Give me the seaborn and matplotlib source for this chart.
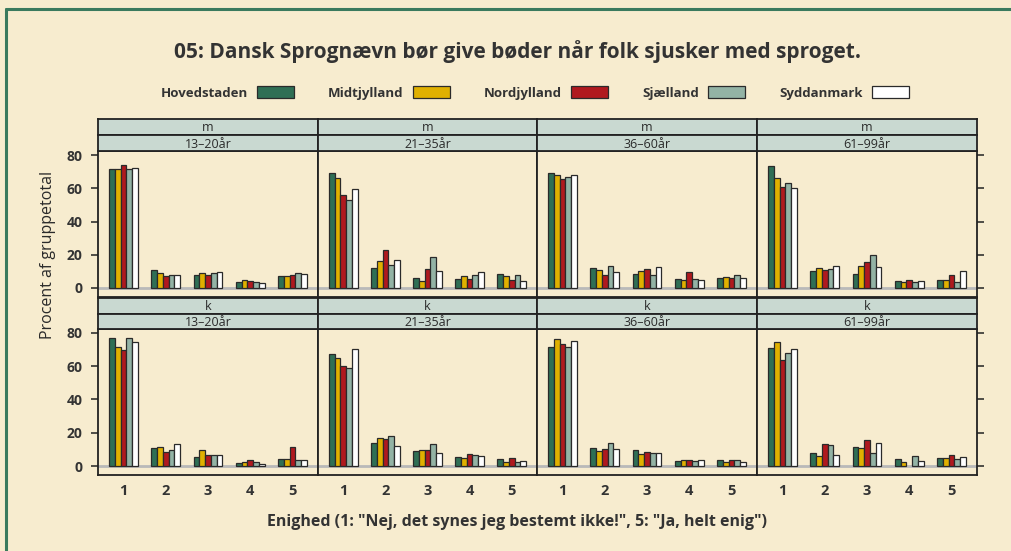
import numpy as np
import pandas as pd
import matplotlib
matplotlib.use("Agg")
import matplotlib.pyplot as plt
from matplotlib.patches import Patch
import seaborn as sns

# region order and colours
regions = ["Hovedstaden", "Midtjylland", "Nordjylland", "Sjælland", "Syddanmark"]
region_colors = ["#2F6F55", "#E0B000", "#B0191E", "#93B3A5", "#FFFFFF"]
answers = ["1", "2", "3", "4", "5"]
age_groups = ["13–20år", "21–35år", "36–60år", "61–99år"]
sexes = ["m", "k"]

# percent per answer (rows 1..5), per region (columns)
m_13_20 = [[71.4, 71.4, 73.8, 71.4, 72.0], [10.6, 8.8, 7.0, 7.6, 7.8], [8.0, 8.8, 8.0, 9.0, 9.4],
           [3.8, 4.6, 4.0, 3.6, 3.0], [7.0, 7.4, 8.0, 9.0, 8.4]]
m_21_35 = [[69.4, 66.2, 56.2, 52.8, 59.4], [12.2, 16.0, 22.6, 14.0, 16.8], [5.8, 4.2, 11.4, 18.8, 10.4],
           [5.4, 7.0, 5.4, 7.6, 9.4], [8.4, 7.0, 5.0, 7.6, 4.4]]
m_36_60 = [[69.2, 68.0, 65.8, 66.6, 67.8], [11.8, 11.0, 7.6, 13.4, 9.4], [8.4, 10.2, 11.4, 8.0, 12.6],
           [5.4, 4.6, 9.8, 5.4, 4.8], [6.0, 6.6, 6.0, 7.6, 6.0]]
m_61_99 = [[73.4, 66.4, 60.8, 63.2, 60.4], [10.0, 12.2, 11.0, 11.4, 13.4], [8.2, 13.4, 15.8, 19.6, 12.6],
           [4.2, 3.8, 5.0, 3.4, 4.0], [4.8, 4.8, 8.0, 3.4, 10.2]]
k_13_20 = [[76.6, 71.2, 69.6, 76.8, 74.6], [11.2, 11.8, 8.4, 10.0, 13.2], [5.6, 9.6, 6.6, 6.6, 6.6],
           [2.2, 2.6, 3.6, 2.8, 1.6], [4.6, 4.6, 11.6, 3.8, 3.8]]
k_21_35 = [[67.0, 65.0, 60.0, 58.8, 70.0], [13.8, 17.0, 16.6, 18.0, 12.4], [9.0, 9.6, 9.8, 13.2, 8.0],
           [5.8, 5.0, 7.6, 7.0, 6.4], [4.2, 2.6, 5.2, 2.8, 3.0]]
k_36_60 = [[71.2, 76.0, 73.0, 71.2, 74.8], [11.2, 9.0, 10.4, 13.8, 10.2], [9.8, 7.6, 8.8, 8.0, 7.8],
           [3.4, 4.0, 3.6, 3.0, 4.0], [3.8, 2.6, 3.8, 3.6, 2.8]]
k_61_99 = [[70.6, 74.2, 63.4, 67.6, 70.4], [8.0, 6.2, 13.6, 12.8, 6.8], [11.6, 11.2, 15.8, 8.2, 14.0],
           [4.6, 2.4, 0.0, 6.0, 3.0], [4.8, 5.0, 6.8, 4.6, 5.4]]

panels = {
    ("m", "13–20år"): m_13_20, ("m", "21–35år"): m_21_35,
    ("m", "36–60år"): m_36_60, ("m", "61–99år"): m_61_99,
    ("k", "13–20år"): k_13_20, ("k", "21–35år"): k_21_35,
    ("k", "36–60år"): k_36_60, ("k", "61–99år"): k_61_99,
}

rows = []
for (sex, age), vals in panels.items():
    for i, ans in enumerate(answers):
        for j, reg in enumerate(regions):
            rows.append({"sex": sex, "age": age, "svar": ans, "region": reg, "pct": vals[i][j]})
df = pd.DataFrame(rows)

sns.set_style("white")
plt.rcParams["font.family"] = ["Open Sans", "DejaVu Sans"]

BG = "#F7ECCF"
STRIP = "#C9D9D1"
TXT = "#333333"
W, H = 1011, 551

fig = plt.figure(figsize=(W / 100, H / 100), dpi=100)
fig.patch.set_facecolor(BG)

# outer frame (left + top)
fig.add_artist(plt.Line2D([6 / W, 6 / W], [0, 1 - 9 / H], color="#3A7A5E", lw=2.2))
fig.add_artist(plt.Line2D([6 / W, 1], [1 - 9 / H, 1 - 9 / H], color="#3A7A5E", lw=2.2))

col_x = [98, 318, 537, 757, 977]
row_y = [(119, 135, 151.5, 296.5), (297.5, 313.5, 329, 475)]


def fig_rect(x0, x1, y0, y1):
    return [x0 / W, 1 - y1 / H, (x1 - x0) / W, (y1 - y0) / H]


for r, sex in enumerate(sexes):
    s1, s2, p0, p1 = row_y[r]
    for c, age in enumerate(age_groups):
        x0, x1 = col_x[c], col_x[c + 1]
        ax = fig.add_axes(fig_rect(x0, x1, p0, p1))
        ax.set_facecolor(BG)
        sub = df[(df["sex"] == sex) & (df["age"] == age)]
        ax.axhline(0, color="#B9B9B9", lw=2, zorder=0.5)
        sns.barplot(data=sub, x="svar", y="pct", hue="region", hue_order=regions,
                    order=answers, palette=region_colors, width=0.68,
                    edgecolor="#2A2A2A", linewidth=0.9, saturation=1,
                    legend=False, ax=ax)
        for p in ax.patches:
            if p.get_height() == 0:
                p.set_visible(False)
        ax.set_xlim(-0.6, 4.6)
        ax.set_ylim(-5.2, 82.2)
        ax.set_xlabel("")
        ax.set_ylabel("")
        for sp in ax.spines.values():
            sp.set_color("#222222")
            sp.set_linewidth(1.3)
        ax.set_yticks([0, 20, 40, 60, 80])
        if c == 0:
            ax.tick_params(axis="y", left=True, right=False, direction="out", length=5,
                           width=1.1, color="#222222", labelsize=10, labelcolor=TXT, pad=6)
            for lab in ax.get_yticklabels():
                lab.set_fontweight("bold")
        elif c == 3:
            ax.tick_params(axis="y", left=False, right=True, labelleft=False,
                           direction="out", length=5, width=1.1, color="#222222")
        else:
            ax.tick_params(axis="y", left=False, labelleft=False)
        if r == 1:
            ax.tick_params(axis="x", bottom=False, labelsize=10.5, labelcolor=TXT, pad=3)
            for lab in ax.get_xticklabels():
                lab.set_fontweight("bold")
        else:
            ax.tick_params(axis="x", bottom=False, labelbottom=False)

        # strips
        for (y0, y1, label) in [(s1, s2, sex), (s2, p0, age)]:
            sax = fig.add_axes(fig_rect(x0, x1, y0, y1))
            sax.set_facecolor(STRIP)
            sax.set_xticks([])
            sax.set_yticks([])
            for sp in sax.spines.values():
                sp.set_color("#222222")
                sp.set_linewidth(1.3)
            sax.text(0.5, 0.45, label, transform=sax.transAxes, ha="center", va="center",
                     fontsize=9, color="#2A2A2A")

fig.text(0.512, 1 - 52 / H, "05: Dansk Sprognævn bør give bøder når folk sjusker med sproget.",
         ha="center", va="center", fontsize=15, fontweight="bold", color=TXT)

handles = [Patch(facecolor=col, edgecolor="#2A2A2A", linewidth=0.9) for col in region_colors]
leg = fig.legend(handles, regions, ncol=5, loc="center", bbox_to_anchor=(0.529, 1 - 93 / H),
                 frameon=False, markerfirst=False, handlelength=2.8, handleheight=1.0,
                 columnspacing=2.6, handletextpad=0.7,
                 prop={"size": 9.5, "weight": "bold"})
for t in leg.get_texts():
    t.set_color(TXT)

fig.text(48 / W, 1 - 255 / H, "Procent af gruppetotal", rotation=90, ha="center", va="center",
         fontsize=11.5, color="#2A2A2A")
fig.text(0.511, 1 - 522 / H, 'Enighed (1: "Nej, det synes jeg bestemt ikke!", 5: "Ja, helt enig")',
         ha="center", va="center", fontsize=11.5, color=TXT, fontweight="bold")

fig.savefig("out.png", dpi=100, facecolor=BG)
